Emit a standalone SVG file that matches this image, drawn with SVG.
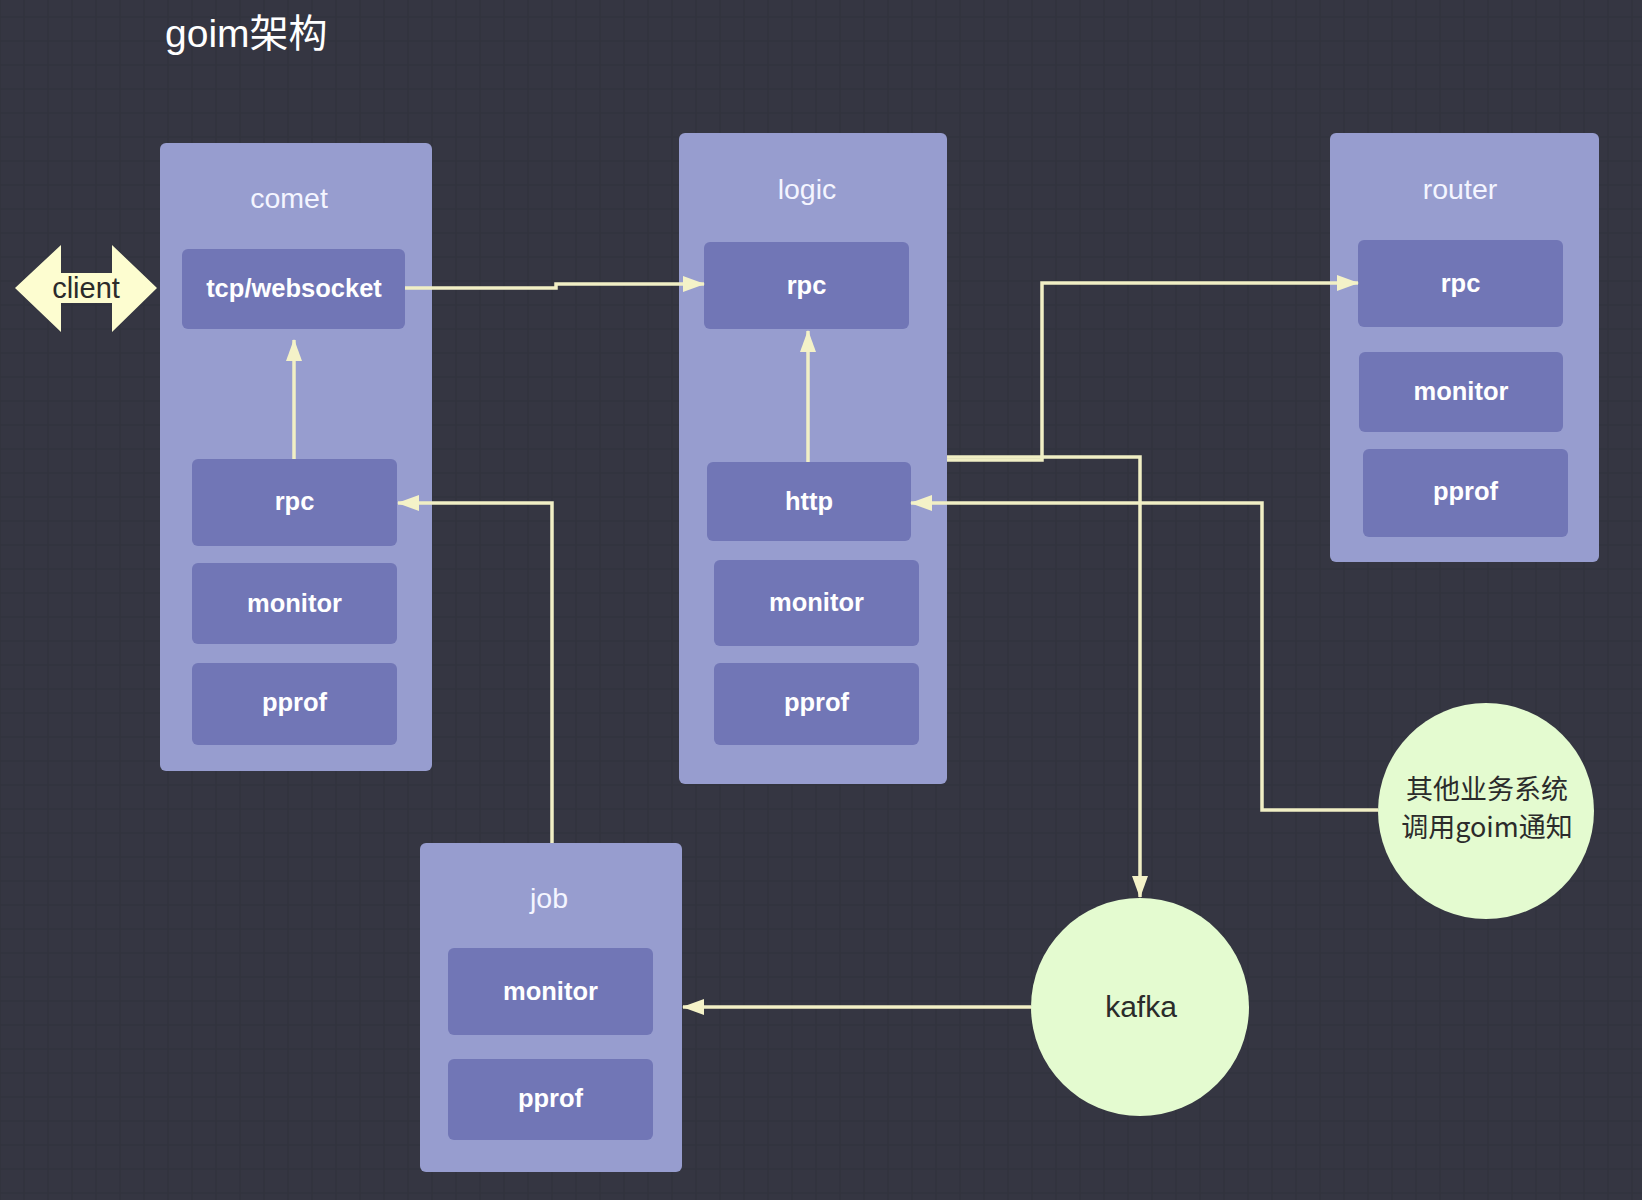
<svg xmlns="http://www.w3.org/2000/svg" width="1642" height="1200" viewBox="0 0 1642 1200">
  <defs>
    <pattern id="grid" patternUnits="userSpaceOnUse" x="-12" y="5" width="24" height="24">
      <path d="M12,0 V24 M0,12 H24" stroke="#30313c" stroke-width="1.2" fill="none"/>
    </pattern>
    <marker id="arrow" markerUnits="userSpaceOnUse" viewBox="0 0 22 16" refX="21" refY="8" markerWidth="22" markerHeight="16" orient="auto">
      <path d="M0,0 L22,8 L0,16 z" fill="#f4f2c8"/>
    </marker>
    <style>
      .container { fill: #979dcf; }
      .inner { fill: #7176b6; }
      .ctitle { font-family: "Liberation Sans", "Noto Sans", sans-serif; font-size: 28.5px; fill: #f4f5ff; text-anchor: middle; }
      .ilabel { font-family: "Liberation Sans", "Noto Sans", sans-serif; font-size: 25.5px; font-weight: bold; fill: #ffffff; text-anchor: middle; }
      .dark { font-family: "Liberation Sans", "Noto Sans CJK SC", sans-serif; font-size: 30px; fill: #2b2b2b; text-anchor: middle; }
      .cjk { font-family: "Noto Sans CJK SC", sans-serif; font-size: 27px; fill: #2b2b2b; text-anchor: middle; }
      .conn { fill: none; stroke: #f1efc5; stroke-width: 3.5; stroke-linejoin: miter; }
      .circle { fill: #e4fbd0; }
    </style>
  </defs>

  <rect width="1642" height="1200" fill="#353642"/>
  <rect width="1642" height="1200" fill="url(#grid)"/>

  <text x="165" y="47" font-family="Liberation Sans, Noto Sans CJK SC, sans-serif" font-size="39" fill="#ffffff">goim架构</text>

  <g id="client">
    <polygon points="15,288 61,245 61,273 112,273 112,245 157,288 112,332 112,303 61,303 61,332" fill="#fdfdd0"/>
    <text x="86" y="298" class="dark" style="font-size:29px">client</text>
  </g>

  <g id="comet">
    <rect x="160" y="143" width="272" height="628" rx="6" class="container"/>
    <text x="289" y="208" class="ctitle">comet</text>
    <g id="comet-tcp">
      <rect x="182" y="249" width="223" height="80" rx="6" class="inner"/>
      <text x="294" y="297" class="ilabel">tcp/websocket</text>
    </g>
    <g id="comet-rpc">
      <rect x="192" y="459" width="205" height="87" rx="6" class="inner"/>
      <text x="294.5" y="510" class="ilabel">rpc</text>
    </g>
    <g id="comet-monitor">
      <rect x="192" y="563" width="205" height="81" rx="6" class="inner"/>
      <text x="294.5" y="612" class="ilabel">monitor</text>
    </g>
    <g id="comet-pprof">
      <rect x="192" y="663" width="205" height="82" rx="6" class="inner"/>
      <text x="294.5" y="711" class="ilabel">pprof</text>
    </g>
  </g>

  <g id="logic">
    <rect x="679" y="133" width="268" height="651" rx="6" class="container"/>
    <text x="807" y="199" class="ctitle">logic</text>
    <g id="logic-rpc">
      <rect x="704" y="242" width="205" height="87" rx="6" class="inner"/>
      <text x="806.5" y="294" class="ilabel">rpc</text>
    </g>
    <g id="logic-http">
      <rect x="707" y="462" width="204" height="79" rx="6" class="inner"/>
      <text x="809" y="510" class="ilabel">http</text>
    </g>
    <g id="logic-monitor">
      <rect x="714" y="560" width="205" height="86" rx="6" class="inner"/>
      <text x="816.5" y="611" class="ilabel">monitor</text>
    </g>
    <g id="logic-pprof">
      <rect x="714" y="663" width="205" height="82" rx="6" class="inner"/>
      <text x="816.5" y="711" class="ilabel">pprof</text>
    </g>
  </g>

  <g id="router">
    <rect x="1330" y="133" width="269" height="429" rx="6" class="container"/>
    <text x="1460" y="199" class="ctitle">router</text>
    <g id="router-rpc">
      <rect x="1358" y="240" width="205" height="87" rx="6" class="inner"/>
      <text x="1460.5" y="292" class="ilabel">rpc</text>
    </g>
    <g id="router-monitor">
      <rect x="1359" y="352" width="204" height="80" rx="6" class="inner"/>
      <text x="1461" y="400" class="ilabel">monitor</text>
    </g>
    <g id="router-pprof">
      <rect x="1363" y="449" width="205" height="88" rx="6" class="inner"/>
      <text x="1465.5" y="500" class="ilabel">pprof</text>
    </g>
  </g>

  <g id="job">
    <rect x="420" y="843" width="262" height="329" rx="6" class="container"/>
    <text x="549" y="908" class="ctitle">job</text>
    <g id="job-monitor">
      <rect x="448" y="948" width="205" height="87" rx="6" class="inner"/>
      <text x="550.5" y="1000" class="ilabel">monitor</text>
    </g>
    <g id="job-pprof">
      <rect x="448" y="1059" width="205" height="81" rx="6" class="inner"/>
      <text x="550.5" y="1107" class="ilabel">pprof</text>
    </g>
  </g>

  <g id="kafka">
    <circle cx="1140" cy="1007" r="109" class="circle"/>
    <text x="1141" y="1017" class="dark">kafka</text>
  </g>

  <g id="other-systems">
    <circle cx="1486" cy="811" r="108" class="circle"/>
    <text x="1487" y="799" class="cjk">其他业务系统</text>
    <text x="1487" y="837" class="cjk">调用goim通知</text>
  </g>

  <g id="connectors">
    <path class="conn" d="M405,288 H556 V284 H704" marker-end="url(#arrow)"/>
    <path class="conn" d="M294,459 V340" marker-end="url(#arrow)"/>
    <path class="conn" d="M552,843 V503 H398" marker-end="url(#arrow)"/>
    <path class="conn" d="M808,462 V331" marker-end="url(#arrow)"/>
    <path class="conn" d="M947,460 H1042 V283 H1358" marker-end="url(#arrow)"/>
    <path class="conn" d="M947,457 H1140 V897" marker-end="url(#arrow)"/>
    <path class="conn" d="M1378,810 H1262 V503 H911" marker-end="url(#arrow)"/>
    <path class="conn" d="M1031,1007 H683" marker-end="url(#arrow)"/>
  </g>
</svg>
